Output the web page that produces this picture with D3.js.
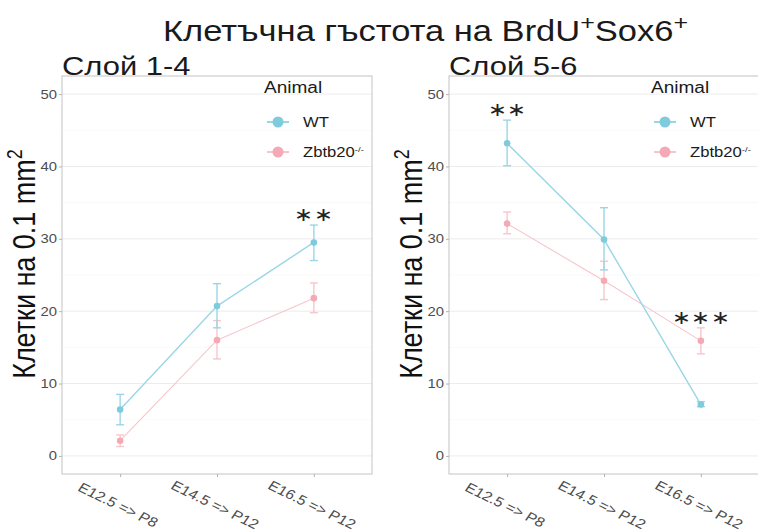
<!DOCTYPE html>
<html lang="bg">
<head>
<meta charset="UTF-8">
<title>Клетъчна гъстота</title>
<script src="https://d3js.org/d3.v7.min.js"></script>
<style>
  body { margin: 0; background: #fff; }
  text { font-family: "Liberation Sans", Arial, sans-serif; }
</style>
</head>
<body>
<div id="chart"></div>
<script>
// categories and values
var categories = ["E12.5 => P8", "E14.5 => P12", "E16.5 => P12"];

// Слой 1-4
var wtMean14 = [6.4, 20.7, 29.5];
var wtLow14 = [4.3, 17.7, 27.0];
var wtHigh14 = [8.5, 23.8, 31.9];
var kdMean14 = [2.1, 16.0, 21.8];
var kdLow14 = [1.3, 13.4, 19.8];
var kdHigh14 = [2.9, 18.7, 23.9];

// Слой 5-6
var wtMean56 = [43.2, 29.9, 7.1];
var wtLow56 = [40.1, 25.7, 6.8];
var wtHigh56 = [46.4, 34.3, 7.5];
var kdMean56 = [32.1, 24.2, 15.9];
var kdLow56 = [30.7, 21.6, 14.1];
var kdHigh56 = [33.7, 26.9, 17.7];

var yTicks = [0, 10, 20, 30, 40, 50];
var yMinor = [5, 15, 25, 35, 45];

var stars14 = [null, null, "**"];
var stars56 = ["**", null, "***"];

var width = 758, height = 532;
var SX = 1.19; // the picture is stretched sideways
var wtColor = "#7fcbdd", kdColor = "#f4aab4";
var wtLine = "#9ad6e6", kdLine = "#f7c6cc";

var svg = d3.select("#chart").append("svg")
    .attr("width", width)
    .attr("height", height);

function stretch(x, y, extra) {
    return "translate(" + x + "," + y + ") scale(" + SX + ",1)" + (extra ? " " + extra : "");
}

// title
var title = svg.append("text")
    .attr("transform", stretch(163, 41))
    .attr("font-size", 29)
    .attr("fill", "#1a1a1a");
title.append("tspan").text("Клетъчна гъстота на BrdU");
title.append("tspan").attr("font-size", 21).attr("dy", -11).text("+");
title.append("tspan").attr("dy", 11).text("Sox6");
title.append("tspan").attr("font-size", 21).attr("dy", -11).text("+");

var y = d3.scaleLinear().domain([-2.5, 52.5]).range([474, 76]);

function panel(left, name, wtM, wtL, wtH, kdM, kdL, kdH, stars) {
    var right = left + 310;
    var x = d3.scalePoint().domain(categories).range([left, right]).padding(0.6);
    var g = svg.append("g");

    g.append("text")
        .attr("transform", stretch(left, 75))
        .attr("font-size", 26)
        .attr("fill", "#1a1a1a")
        .text(name);

    // grid
    g.selectAll(".minor").data(yMinor).enter().append("line")
        .attr("x1", left).attr("x2", right)
        .attr("y1", function (d) { return y(d); })
        .attr("y2", function (d) { return y(d); })
        .attr("stroke", "#f5f5f5").attr("stroke-width", 0.6);
    g.selectAll(".major").data(yTicks).enter().append("line")
        .attr("x1", left).attr("x2", right)
        .attr("y1", function (d) { return y(d); })
        .attr("y2", function (d) { return y(d); })
        .attr("stroke", "#ececec").attr("stroke-width", 1);

    g.append("rect")
        .attr("x", left).attr("y", 76)
        .attr("width", 310).attr("height", 398)
        .attr("fill", "none").attr("stroke", "#c4c4c4").attr("stroke-width", 1);

    // axes
    var yAxis = g.append("g")
        .attr("transform", "translate(" + left + ",0)")
        .call(d3.axisLeft(y).tickValues(yTicks).tickSize(3).tickPadding(2));
    yAxis.select(".domain").remove();
    yAxis.selectAll("line").attr("stroke", "#b3b3b3");
    yAxis.selectAll("text").attr("fill", "#4d4d4d").attr("font-size", 12.5)
        .attr("font-family", "Liberation Sans, Arial, sans-serif")
        .attr("transform", "translate(-5,0) scale(" + SX + ",1)")
        .attr("x", 0);

    var xAxis = g.append("g")
        .attr("transform", "translate(0,474)")
        .call(d3.axisBottom(x).tickSize(3).tickFormat(""));
    xAxis.select(".domain").remove();
    xAxis.selectAll("line").attr("stroke", "#b3b3b3");

    g.selectAll(".xlab").data(categories).enter().append("text")
        .attr("transform", function (d) { return stretch(x(d) - 2, 505, "rotate(30)"); })
        .attr("text-anchor", "middle")
        .attr("dominant-baseline", "central")
        .attr("font-size", 13.5)
        .attr("fill", "#4d4d4d")
        .text(function (d) { return d; });

    // y title
    var yt = g.append("text")
        .attr("transform", stretch(left - 27, 264, "rotate(-90)"))
        .attr("text-anchor", "middle")
        .attr("font-size", 27)
        .attr("fill", "#111");
    yt.append("tspan").text("Клетки на 0.1 mm");
    yt.append("tspan").attr("font-size", 18).attr("dy", -11).text("2");

    function series(m, lo, hi, col, lineCol, lw) {
        var line = d3.line()
            .x(function (d, i) { return x(categories[i]); })
            .y(function (d) { return y(d); });
        g.append("path").datum(m)
            .attr("d", line)
            .attr("fill", "none")
            .attr("stroke", lineCol)
            .attr("stroke-width", lw);
        var eb = g.append("g").attr("stroke", lineCol).attr("stroke-width", 1.4);
        categories.forEach(function (c, i) {
            eb.append("line").attr("x1", x(c)).attr("x2", x(c))
                .attr("y1", y(lo[i])).attr("y2", y(hi[i]));
            eb.append("line").attr("x1", x(c) - 4).attr("x2", x(c) + 4)
                .attr("y1", y(lo[i])).attr("y2", y(lo[i]));
            eb.append("line").attr("x1", x(c) - 4).attr("x2", x(c) + 4)
                .attr("y1", y(hi[i])).attr("y2", y(hi[i]));
        });
        g.selectAll(null).data(m).enter().append("circle")
            .attr("cx", function (d, i) { return x(categories[i]); })
            .attr("cy", function (d) { return y(d); })
            .attr("r", 3.3)
            .attr("fill", col);
    }
    series(kdM, kdL, kdH, kdColor, kdLine, 1.1);
    series(wtM, wtL, wtH, wtColor, wtLine, 1.4);

    // significance stars
    categories.forEach(function (c, i) {
        if (!stars[i]) return;
        var top = Math.max(wtH[i], kdH[i]);
        g.append("text")
            .attr("transform", stretch(x(c), y(top) - 4))
            .attr("text-anchor", "middle")
            .attr("font-size", 19)
            .attr("fill", "#222")
            .text(stars[i].replace(/\*/g, "∗"));
    });

    // legend
    g.append("text")
        .attr("transform", stretch(left + 202, 93))
        .attr("font-size", 16)
        .attr("fill", "#1a1a1a")
        .text("Animal");
    var keys = [
        { label: "WT", col: wtColor, lineCol: wtLine, yy: 122 },
        { label: "Zbtb20", col: kdColor, lineCol: kdLine, yy: 152 }
    ];
    keys.forEach(function (k) {
        g.append("line")
            .attr("x1", left + 205).attr("x2", left + 227)
            .attr("y1", k.yy).attr("y2", k.yy)
            .attr("stroke", k.lineCol).attr("stroke-width", 2);
        g.append("circle")
            .attr("cx", left + 216).attr("cy", k.yy).attr("r", 5.5)
            .attr("fill", k.col);
        var t = g.append("text")
            .attr("transform", stretch(left + 241, k.yy + 5))
            .attr("font-size", 14)
            .attr("fill", "#1a1a1a")
            .text(k.label);
        if (k.label === "Zbtb20") {
            t.append("tspan").attr("font-size", 8).attr("dy", -5).text("-/-");
        }
    });
}

panel(62, "Слой 1-4", wtMean14, wtLow14, wtHigh14, kdMean14, kdLow14, kdHigh14, stars14);
panel(449, "Слой 5-6", wtMean56, wtLow56, wtHigh56, kdMean56, kdLow56, kdHigh56, stars56);
</script>
</body>
</html>
